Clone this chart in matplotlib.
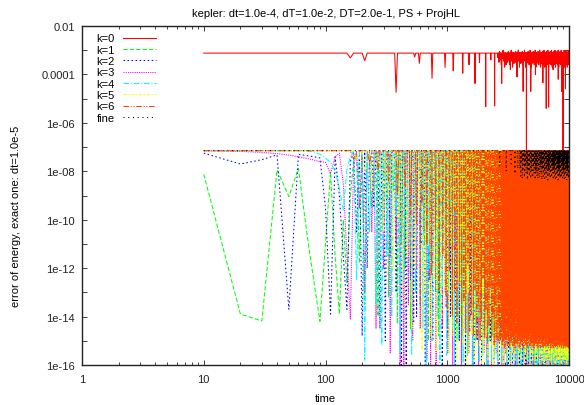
import numpy as np
import matplotlib
matplotlib.use('Agg')
import matplotlib.pyplot as plt

plt.rcParams['font.family'] = ['Liberation Sans', 'DejaVu Sans']
plt.rcParams['lines.scale_dashes'] = False

# stored samples every 10 time units
t_step = 10
t_end = 10000

# values are log10(error); "spike" = single stored sample, "dense" = every n-th sample from t0
k0_top = -3.12
k0_early_t = []
k0_early_v = []
k0_spike_t = [164, 214, 379, 543, 586, 750, 955, 1120, 1340, 1510, 1690, 1840, 2070, 2275, 2450,
              2800, 3040, 3300, 3740, 4200, 4470, 4850, 5300, 5650, 6100, 6500, 6800, 7400,
              8160, 8700, 8930, 9350]
k0_spike_v = [-3.32, -3.43, -4.74, -3.28, -3.54, -4.16, -3.71, -3.85, -3.95, -3.6, -4.37, -3.5, -5.33,
              -3.4, -5.3, -4.37, -3.6, -3.8, -4.1, -4.7, -17, -4.7, -4.0, -3.6, -4.35, -5.4, -5.35,
              -3.8, -4.2, -4.7, -17, -4.6]
k0_dense = (2600, 3, [-3.3, -3.2, -3.5, -3.05, -3.4, -3.25, -3.6, -3.15, -3.35, -3.0, -3.45, -3.2,
                      -3.7, -3.1, -3.3, -3.55])

k1_top = -7.3
k1_early_t = [10, 20, 30, 40, 50, 60, 70, 80, 90, 100, 110, 120, 130, 140, 150, 160, 170]
k1_early_v = [-8.12, -13.9, -14.18, -7.94, -9.04, -7.88, -10.5, -12.5, -14.2, -11.0, -8.05, -11.5,
              -13.9, -10.0, -12.6, -9.0, -7.6]
k1_spike_t = [190, 210, 240, 270, 300, 330, 360, 390, 420]
k1_spike_v = [-11.8, -13.5, -9.5, -14.0, -10.2, -13.2, -8.8, -14.3, -11.0]
k1_dense = (450, 5, [-12.0, -14.5, -10.0, -13.5, -11.0, -15.0, -9.5, -13.0, -14.8, -10.5])

k2_top = -7.2
k2_early_t = [10, 20, 30, 40, 50, 60, 70, 80, 90, 100, 110, 120, 130, 140, 150, 160]
k2_early_v = [-7.25, -7.7, -7.52, -7.32, -13.7, -7.3, -7.35, -7.4, -7.45, -9.5, -13.9, -7.4, -9.0,
              -11.5, -13.7, -7.6]
k2_spike_t = [180, 200, 220, 250, 280, 310, 340, 380, 420, 460, 500, 530]
k2_spike_v = [-10.5, -14.8, -12.0, -9.5, -14.5, -15.0, -11.5, -13.0, -16.5, -16.5, -12.5, -14.2]
k2_dense = (560, 5, [-14.0, -11.0, -16.5, -12.5, -15.0, -10.0, -13.5, -16.3, -9.5, -14.8])

k3_top = -7.2
k3_early_t = [10, 20, 30, 40, 50, 60, 70, 80, 90, 100, 110, 120, 130, 140, 150, 160, 170]
k3_early_v = [-7.15, -7.18, -7.22, -7.27, -7.33, -7.4, -7.47, -7.53, -7.6, -7.63, -8.1, -7.4, -7.25,
              -8.5, -11.5, -14.1, -7.8]
k3_spike_t = [190, 210, 240, 260, 300, 340, 380, 410, 440, 480, 520, 560, 600, 640, 680, 730]
k3_spike_v = [-9.5, -13.0, -10.5, -14.5, -12.0, -15.5, -11.0, -16.5, -16.5, -13.5, -15.0, -12.0,
              -14.5, -10.5, -15.8, -16.5]
k3_dense = (760, 5, [-12.0, -16.5, -10.0, -14.5, -13.0, -15.5, -9.5, -16.5, -11.5, -14.0])

k4_top = -7.15
k4_early_t = [80, 90, 100, 110, 120, 130, 140, 150, 160]
k4_early_v = [-7.2, -7.3, -7.45, -7.65, -8.0, -8.7, -9.6, -7.9, -7.4]
k4_spike_t = [180, 210, 230, 260, 290, 320, 350, 380, 410, 440]
k4_spike_v = [-12.5, -15.8, -10.5, -13.5, -15.2, -11.5, -14.0, -9.8, -15.5, -12.5]
k4_dense = (470, 4, [-11.0, -15.6, -13.0, -9.5, -14.5, -16.3, -12.0, -15.0, -10.5, -14.0, -15.9, -12.8])

k5_top = -7.15
k5_early_t = []
k5_early_v = []
k5_spike_t = [180, 210, 240, 270, 300, 330, 360, 400, 430, 470, 510, 550, 590, 620, 660, 700, 740,
              780, 820, 860, 900, 950]
k5_spike_v = [-7.5, -8.0, -8.8, -7.8, -10.5, -9.0, -12.0, -10.0, -13.5, -11.5, -14.5, -12.0, -9.5,
              -15.4, -13.0, -11.0, -14.8, -12.5, -15.5, -10.5, -14.0, -13.0]
k5_dense = (1000, 4, [-13.0, -15.5, -11.0, -14.8, -9.5, -15.8, -12.5, -14.0, -10.5, -15.2, -13.5, -16.2])

k6_top = -7.15
k6_early_t = []
k6_early_v = []
k6_spike_t = [170, 230, 270, 330, 390, 450, 500, 560, 620, 680, 740, 800, 860, 920, 980, 1040,
              1100, 1150, 1200, 1260, 1310, 1370, 1420, 1480, 1530, 1580, 1640, 1690, 1750, 1800,
              1860, 1910, 1970, 2030, 2080, 2140, 2200, 2250, 2310, 2370, 2430, 2470, 2520, 2560,
              2610, 2650, 2700, 2740]
k6_spike_v = [-7.5, -7.7, -8.0, -8.4, -9.0, -8.6, -9.8, -10.2, -9.4, -11.0, -12.3, -10.4, -12.9,
              -11.5, -13.6, -12.1, -14.0, -13.0, -14.3, -12.6, -14.5, -13.4, -14.7, -11.8, -14.6,
              -13.9, -14.8, -12.9, -14.9, -13.6, -15.0, -14.1, -12.4, -14.9, -13.7, -15.1, -14.4,
              -12.8, -15.0, -14.0, -15.2, -13.5, -14.9, -12.7, -15.1, -14.2, -15.0, -13.8]
k6_dense = (2780, 2, [-14.8, -13.2, -15.2, -11.8, -14.4, -15.0, -12.6, -14.6, -15.3, -10.5, -13.9,
                      -14.9, -12.2, -15.1, -13.6, -9.2])

fine_top = -7.15
fine_early_t = []
fine_early_v = []
fine_spike_t = [2700, 3050, 3350, 3600, 3800]
fine_spike_v = [-7.8, -8.0, -7.7, -8.1, -7.9]
fine_dense = (3950, 6, [-7.9, -8.2, -7.6, -8.3, -8.0, -7.5, -8.25, -7.8, -8.1, -7.7, -8.35, -7.95])

labels = ['k=0', 'k=1', 'k=2', 'k=3', 'k=4', 'k=5', 'k=6', 'fine']
colors = ['#ff0000', '#00ff00', '#0000ff', '#ff00ff', '#00ffff', '#ffff00', '#ff4500', '#000000']
dashes = [None, (3.0, 1.6), (1.1, 1.8), (0.8, 0.8), (4.0, 1.3, 0.8, 1.3), (2.2, 1.3, 0.8, 1.3),
          (4.0, 1.2, 0.8, 1.2, 0.8, 1.2), (0.8, 2.6)]


def build(top, early_t, early_v, spike_t, spike_v, dense):
    t = np.arange(t_step, t_end + 1, t_step)
    v = np.full(len(t), top, dtype=float)
    t0, every, dv = dense
    idx = np.nonzero(t >= t0)[0][::every]
    for j, i in enumerate(idx):
        v[i] = dv[j % len(dv)]
    for tt, vv in zip(list(early_t) + list(spike_t), list(early_v) + list(spike_v)):
        v[int(round(tt / t_step)) - 1] = vv
    return t, 10.0 ** v


series = [
    build(k0_top, k0_early_t, k0_early_v, k0_spike_t, k0_spike_v, k0_dense),
    build(k1_top, k1_early_t, k1_early_v, k1_spike_t, k1_spike_v, k1_dense),
    build(k2_top, k2_early_t, k2_early_v, k2_spike_t, k2_spike_v, k2_dense),
    build(k3_top, k3_early_t, k3_early_v, k3_spike_t, k3_spike_v, k3_dense),
    build(k4_top, k4_early_t, k4_early_v, k4_spike_t, k4_spike_v, k4_dense),
    build(k5_top, k5_early_t, k5_early_v, k5_spike_t, k5_spike_v, k5_dense),
    build(k6_top, k6_early_t, k6_early_v, k6_spike_t, k6_spike_v, k6_dense),
    build(fine_top, fine_early_t, fine_early_v, fine_spike_t, fine_spike_v, fine_dense),
]

fig = plt.figure(figsize=(5.84, 4.06), dpi=100)
ax = fig.add_axes([82 / 584, 1 - 366 / 406, 487 / 584, 339 / 406])

for (t, v), lab, c, d in zip(series, labels, colors, dashes):
    line, = ax.plot(t, v, color=c, lw=0.75, label=lab)
    if d is not None:
        line.set_dashes(d)

ax.set_xscale('log')
ax.set_yscale('log')
ax.set_xlim(1, 10000)
ax.set_ylim(1e-16, 1e-2)

ax.set_xticks([1, 10, 100, 1000, 10000])
ax.set_xticklabels(['1', '10', '100', '1000', '10000'])
ytick_vals = [10.0 ** e for e in range(-16, -1)]
ytick_labs = ['1e-16', '', '1e-14', '', '1e-12', '', '1e-10', '', '1e-08', '', '1e-06', '',
              '0.0001', '', '0.01']
ax.set_yticks(ytick_vals)
ax.set_yticklabels(ytick_labs)
ax.yaxis.set_minor_locator(matplotlib.ticker.NullLocator())

fs = 8
ax.tick_params(which='both', direction='in', top=True, right=True, labelsize=fs, colors='#222222')
ax.tick_params(which='major', length=3.6, width=0.6)
ax.tick_params(which='minor', length=2.0, width=0.6)
ax.tick_params(axis='x', pad=6.5)
ax.tick_params(axis='y', pad=5)
for s in ax.spines.values():
    s.set_linewidth(1.0)
    s.set_color('#222222')

ax.set_title('kepler: dt=1.0e-4, dT=1.0e-2, DT=2.0e-1, PS + ProjHL', fontsize=fs, pad=7)
ax.set_xlabel('time', fontsize=fs)
ax.set_ylabel('error of energy, exact one: dt=1.0e-5', fontsize=fs)
ax.xaxis.set_label_coords(0.5, -0.082)
ax.yaxis.set_label_coords(-0.125, 0.44)

ax.legend(loc='upper left', bbox_to_anchor=(0.029, 0.978), frameon=False, fontsize=fs,
          markerfirst=False, handlelength=2.9, handletextpad=0.8, labelspacing=0.12,
          borderpad=0, borderaxespad=0)

fig.savefig('out.png', dpi=100)
